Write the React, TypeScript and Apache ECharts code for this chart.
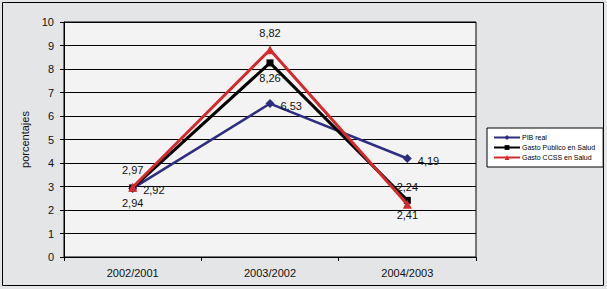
import React, { useEffect, useRef } from "react";
import * as echarts from "echarts";

const categories = ["2002/2001", "2003/2002", "2004/2003"];
const pibReal = [2.92, 6.53, 4.19];
const gastoPublico = [2.94, 8.26, 2.41];
const gastoCCSS = [2.97, 8.82, 2.24];
const seriesNames = ["PIB real", "Gasto Público en Salud", "Gasto CCSS en Salud"];

const fmt = (p: any) => Number(p.value).toFixed(2).replace(".", ",");

export default function App() {
  const ref = useRef<HTMLDivElement>(null);
  useEffect(() => {
    document.body.style.margin = "0";
    const chart = echarts.init(ref.current!, null, { renderer: "svg" });
    const labelBase = {
      show: true,
      formatter: fmt,
      fontSize: 11,
      color: "#111",
      fontFamily: "Liberation Sans, Arial, sans-serif",
    };
    chart.setOption({
      animation: false,
      backgroundColor: "#e3e5e7",
      textStyle: { fontFamily: "Liberation Sans, Arial, sans-serif" },
      graphic: [
        {
          type: "rect",
          shape: { x: 2.5, y: 2.5, width: 601, height: 283 },
          style: { fill: "none", stroke: "#000", lineWidth: 1 },
          silent: true,
        },
      ],
      grid: {
        left: 64,
        right: 131,
        top: 22,
        bottom: 32,
        show: true,
        backgroundColor: "#f3f3f3",
        borderColor: "#000",
        borderWidth: 1,
      },
      legend: {
        orient: "vertical",
        left: 487,
        top: 128,
        width: 107,
        data: seriesNames,
        backgroundColor: "#ffffff",
        borderColor: "#000",
        borderWidth: 1,
        padding: [6, 8, 6, 6],
        itemGap: 3,
        itemWidth: 26,
        itemHeight: 6,
        textStyle: { fontSize: 7, color: "#000", padding: [0, 0, 0, -3] },
      },
      xAxis: {
        type: "category",
        data: categories,
        boundaryGap: true,
        axisLine: { show: true, lineStyle: { color: "#000" } },
        axisTick: { show: true, length: 4, lineStyle: { color: "#000" } },
        axisLabel: { fontSize: 11, color: "#111", margin: 10 },
      },
      yAxis: {
        type: "value",
        min: 0,
        max: 10,
        interval: 1,
        name: "porcentajes",
        nameLocation: "middle",
        nameGap: 34,
        nameTextStyle: { fontSize: 11, color: "#111" },
        axisLine: { show: true, lineStyle: { color: "#000" } },
        axisTick: { show: true, length: 4, lineStyle: { color: "#000" } },
        axisLabel: { fontSize: 11, color: "#111", margin: 10 },
        splitLine: { show: true, lineStyle: { color: "#000", width: 1 } },
      },
      series: [
        {
          name: seriesNames[0],
          type: "line",
          data: pibReal,
          color: "#2e2e80",
          lineStyle: { width: 2.5, color: "#2e2e80" },
          symbol: "diamond",
          symbolSize: 9,
          itemStyle: { color: "#2e2e80" },
          label: { ...labelBase, position: "right", distance: 6, offset: [0, 2] },
          z: 2,
        },
        {
          name: seriesNames[1],
          type: "line",
          data: gastoPublico,
          color: "#000",
          lineStyle: { width: 3, color: "#000" },
          symbol: "rect",
          symbolSize: 7,
          itemStyle: { color: "#000" },
          label: { ...labelBase, position: "bottom", distance: 6 },
          z: 3,
        },
        {
          name: seriesNames[2],
          type: "line",
          data: gastoCCSS,
          color: "#d42a2e",
          lineStyle: { width: 3, color: "#d42a2e" },
          symbol: "triangle",
          symbolSize: 9,
          itemStyle: { color: "#d42a2e" },
          label: { ...labelBase, position: "top", distance: 7 },
          z: 4,
        },
      ],
    });
    return () => chart.dispose();
  }, []);
  return (
    <div
      ref={ref}
      style={{ position: "absolute", left: 0, top: 0, width: 607, height: 289 }}
    />
  );
}
